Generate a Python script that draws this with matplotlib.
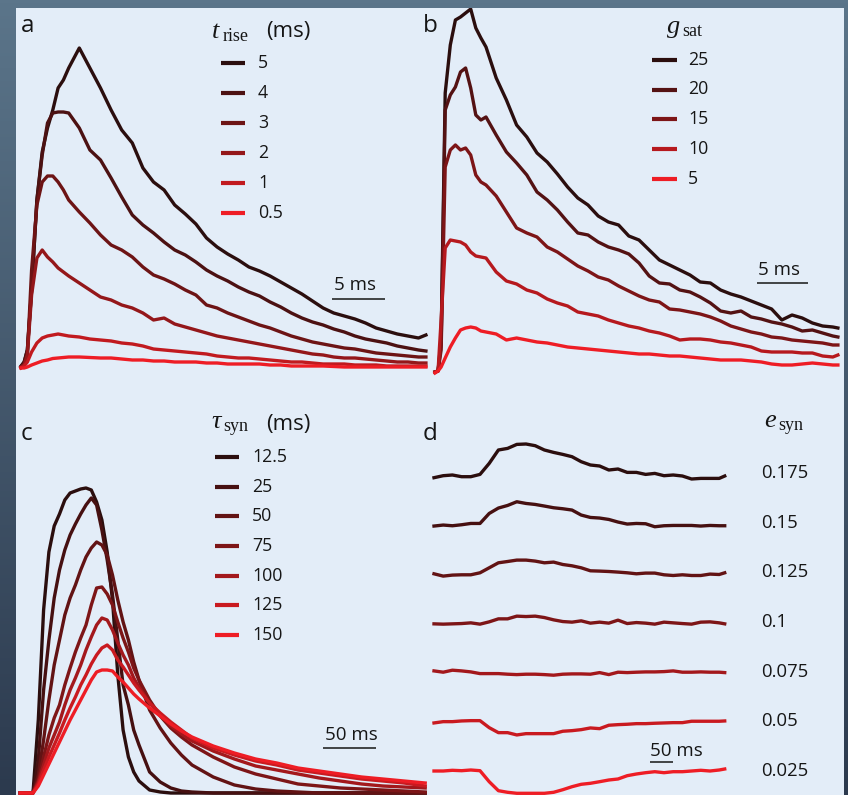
import numpy as np
import matplotlib
matplotlib.use('Agg')
import matplotlib.pyplot as plt
from matplotlib.colors import LinearSegmentedColormap
from matplotlib.patches import Rectangle
from matplotlib.lines import Line2D

# ---------------- data ----------------
# Panel a: rise time (ms) series, time in ms, amplitude in mV
a_labels = ['5', '4', '3', '2', '1', '0.5']
a_t = np.concatenate([[0, 0.3, 0.6, 1.0, 1.5, 2, 2.5, 3, 3.5, 4, 4.5], np.arange(5.5, 38, 1.0), [38.2]])
a_v5 = [0.2, 0.6, 1.8, 7.8, 16.8, 21.6, 24.0, 25.8, 28.0, 28.8, 30.0,
        32.0, 30.0, 28.0, 25.8, 23.8, 22.5, 20.0, 18.6, 17.8, 16.3, 15.4, 14.4, 13.0, 12.1, 11.4, 10.8,
        10.1, 9.7, 9.2, 8.6, 8.0, 7.4, 6.7, 6.0, 5.5, 5.2, 4.9, 4.5, 4.0, 3.7, 3.4, 3.2, 3.0, 3.3]
a_v4 = [0.1, 0.6, 1.8, 7.8, 16.8, 21.3, 24.5, 25.5, 25.6, 25.6, 25.5,
        24.0, 21.8, 20.8, 19.0, 17.1, 15.3, 14.3, 13.5, 12.6, 11.8, 11.3, 10.6, 9.8, 9.2, 8.7, 8.1,
        7.6, 7.2, 6.6, 6.1, 5.5, 5.0, 4.6, 4.3, 3.9, 3.6, 3.2, 2.9, 2.7, 2.5, 2.2, 2.0, 1.8, 1.7]
a_v3 = [0.1, 0.4, 1.3, 9.8, 16.3, 18.6, 19.2, 19.2, 18.6, 17.8, 16.8,
        15.6, 14.5, 13.3, 12.3, 11.8, 11.1, 10.1, 9.3, 8.9, 8.4, 7.8, 7.3, 6.3, 6.0, 5.5, 5.1,
        4.7, 4.3, 4.0, 3.6, 3.2, 2.9, 2.6, 2.4, 2.2, 2.0, 1.9, 1.7, 1.5, 1.4, 1.3, 1.2, 1.1, 1.1]
a_v2 = [0.1, 0.3, 1.3, 7.3, 11.0, 11.8, 11.1, 10.6, 10.0, 9.6, 9.2,
        8.5, 7.8, 7.1, 6.8, 6.3, 6.0, 5.5, 4.8, 5.0, 4.4, 4.1, 3.8, 3.5, 3.2, 3.0, 2.8,
        2.6, 2.4, 2.2, 2.0, 1.8, 1.6, 1.4, 1.3, 1.1, 1.0, 1.0, 0.9, 0.8, 0.7, 0.6, 0.6, 0.5, 0.5]
a_v1 = [0.0, 0.2, 0.6, 1.6, 2.5, 3.0, 3.2, 3.3, 3.4, 3.3, 3.2,
        3.1, 2.9, 2.8, 2.7, 2.5, 2.4, 2.2, 1.9, 1.8, 1.7, 1.6, 1.5, 1.4, 1.2, 1.1, 1.0,
        1.0, 0.9, 0.8, 0.7, 0.6, 0.6, 0.5, 0.4, 0.4, 0.4, 0.3, 0.3, 0.3, 0.2, 0.2, 0.2, 0.2, 0.2]
a_v05 = [0.0, 0.0, 0.1, 0.3, 0.5, 0.7, 0.8, 0.95, 1.0, 1.05, 1.1,
         1.1, 1.05, 1.0, 1.0, 0.9, 0.8, 0.8, 0.7, 0.7, 0.6, 0.6, 0.6, 0.5, 0.5, 0.4, 0.4,
         0.4, 0.4, 0.3, 0.3, 0.2, 0.2, 0.2, 0.2, 0.15, 0.1, 0.1, 0.1, 0.1, 0.1, 0.1, 0.1, 0.1, 0.1]
a_series = [a_v5, a_v4, a_v3, a_v2, a_v1, a_v05]

# Panel b: g_sat series
b_labels = ['25', '20', '15', '10', '5']
b_t = np.concatenate([[0, 0.3, 0.6, 1.0, 1.5, 2, 2.5, 3, 3.5, 4, 4.5, 5], np.arange(6, 40, 1.0), [39.5]])
b_v25 = [0.1, 0.2, 3.3, 28.0, 32.8, 35.3, 35.6, 36.0, 36.4, 34.5, 33.5, 32.6,
         29.5, 27.3, 24.8, 23.6, 22.0, 21.1, 19.9, 18.6, 17.5, 16.8, 15.7, 15.1, 14.8, 13.7, 13.3, 12.3, 11.3,
         10.8, 10.3, 9.8, 9.1, 9.0, 8.3, 7.9, 7.6, 7.2, 6.8, 6.4, 5.3, 5.8, 5.5, 5.0, 4.7, 4.6, 4.5]
b_v20 = [0.1, 0.2, 2.8, 26.3, 27.8, 28.6, 30.1, 30.5, 28.5, 25.8, 25.3, 25.6,
         23.8, 22.1, 21.0, 19.8, 18.1, 17.3, 16.3, 15.1, 14.0, 13.8, 13.1, 12.6, 12.3, 11.9, 11.0, 9.7, 9.0,
         8.9, 8.3, 8.1, 7.6, 7.0, 6.2, 6.0, 6.2, 5.6, 5.4, 5.1, 4.9, 4.6, 4.2, 4.3, 4.0, 3.7, 3.6]
b_v15 = [0.1, 0.2, 2.3, 20.6, 22.3, 22.8, 22.3, 22.5, 21.8, 19.8, 19.1, 18.8,
         17.7, 16.1, 14.5, 14.0, 13.6, 12.6, 12.1, 11.4, 10.7, 10.2, 9.6, 9.3, 8.7, 8.2, 7.7, 7.3, 7.1,
         6.4, 6.3, 6.1, 5.9, 5.6, 5.2, 4.7, 4.4, 4.1, 3.9, 3.6, 3.5, 3.3, 3.2, 3.1, 3.0, 2.8, 2.8]
b_v10 = [0.1, 0.2, 5.3, 12.5, 13.3, 13.2, 13.1, 12.8, 12.1, 11.7, 11.6, 11.5,
         10.1, 9.2, 8.9, 8.3, 8.0, 7.4, 7.0, 6.7, 6.1, 5.9, 5.7, 5.3, 5.0, 4.7, 4.5, 4.2, 4.0,
         3.7, 3.3, 3.4, 3.4, 3.3, 3.1, 3.0, 2.8, 2.6, 2.2, 2.1, 2.1, 2.1, 2.0, 2.0, 1.7, 1.6, 1.8]
b_v5 = [0.0, 0.2, 0.6, 1.5, 2.6, 3.5, 4.3, 4.5, 4.6, 4.5, 4.2, 4.1,
        3.9, 3.3, 3.5, 3.3, 3.1, 3.0, 2.8, 2.6, 2.5, 2.4, 2.3, 2.2, 2.1, 2.0, 1.9, 1.9, 1.8,
        1.7, 1.7, 1.6, 1.5, 1.4, 1.3, 1.3, 1.3, 1.2, 1.1, 0.9, 0.8, 0.8, 0.9, 1.0, 0.9, 0.8, 0.8]
b_series = [b_v25, b_v20, b_v15, b_v10, b_v5]

# Panel c: tau_syn series (time in ms)
c_labels = ['12.5', '25', '50', '75', '100', '125', '150']
c_t = np.concatenate([[-12, 0], np.arange(5, 101, 5), np.arange(110, 151, 10), np.arange(170, 371, 20)])
c_v125 = [0, 0, 7.3, 18.3, 24.1, 26.7, 27.9, 29.3, 30.0, 30.2, 30.4, 30.5, 30.3, 29.1, 27.3, 24.1, 19.3,
          11.8, 6.3, 3.6, 2.1, 1.2, 0.3, 0.1, 0, 0, 0, 0, 0, 0, 0, 0, 0, 0, 0, 0, 0, 0]
c_v25 = [0, 0, 3.3, 10.3, 15.3, 19.5, 22.3, 24.3, 25.8, 26.9, 27.9, 28.8, 29.5, 28.8, 26.3, 23.3, 19.8,
         15.3, 10.8, 8.8, 6.3, 4.8, 2.1, 1.1, 0.5, 0.2, 0.1, 0, 0, 0, 0, 0, 0, 0, 0, 0, 0, 0]
c_v50 = [0, 0, 1.8, 5.3, 9.3, 12.8, 15.3, 17.8, 19.5, 20.8, 22.3, 23.6, 24.5, 25.1, 24.8, 23.8, 21.8,
         19.3, 17.1, 15.3, 13.1, 11.3, 8.3, 6.5, 5.0, 3.8, 2.8, 1.6, 0.8, 0.4, 0.2, 0.1, 0, 0, 0, 0, 0, 0]
c_v75 = [0, 0, 1.3, 3.6, 5.8, 7.5, 8.8, 10.8, 12.5, 14.1, 15.5, 16.8, 18.8, 20.5, 20.6, 19.9, 18.8,
         17.1, 15.5, 14.1, 12.5, 11.3, 9.3, 7.7, 6.5, 5.6, 4.8, 3.6, 2.6, 1.9, 1.4, 0.9, 0.7, 0.5, 0.4, 0.3, 0.2, 0.1]
c_v100 = [0, 0, 1.1, 2.8, 4.5, 5.8, 7.1, 8.8, 10.3, 11.5, 12.8, 14.3, 15.6, 16.8, 17.5, 17.3, 16.3,
          15.0, 13.8, 12.8, 11.5, 10.6, 9.0, 7.8, 6.7, 5.9, 5.2, 4.2, 3.4, 2.7, 2.3, 1.9, 1.5, 1.2, 0.9, 0.7, 0.6, 0.5]
c_v125b = [0, 0, 0.9, 2.3, 3.6, 4.8, 6.0, 7.3, 8.5, 9.6, 10.8, 11.8, 12.9, 13.8, 14.5, 14.8, 14.3,
           13.3, 12.6, 11.8, 11.0, 10.3, 9.0, 8.0, 7.1, 6.3, 5.5, 4.5, 3.8, 3.2, 2.8, 2.3, 2.0, 1.7, 1.4, 1.2, 1.0, 0.7]
c_v150 = [0, 0, 0.7, 1.8, 2.9, 4.0, 5.1, 6.2, 7.3, 8.3, 9.3, 10.3, 11.3, 12.1, 12.3, 12.3, 12.2,
          11.6, 11.1, 10.5, 9.9, 9.4, 8.5, 7.7, 6.9, 6.2, 5.6, 4.7, 4.0, 3.4, 3.0, 2.5, 2.2, 1.9, 1.6, 1.4, 1.2, 1.0]
c_series = [c_v125, c_v25, c_v50, c_v75, c_v100, c_v125b, c_v150]

# Panel d: e_syn series (deviation from rest, mV)
d_labels = ['0.175', '0.15', '0.125', '0.1', '0.075', '0.05', '0.025']
d_t = np.append(np.arange(0, 621, 20), 632)
d_v0175 = [-0.10, 0.10, 0.17, 0, 0, 0.23, 1.33, 2.67, 2.83, 3.23, 3.27, 3.10, 2.67, 2.43, 2.23, 2.00, 1.50,
           1.17, 1.07, 0.67, 0.77, 0.43, 0.43, 0.23, 0.33, 0.10, 0.17, 0.07, -0.23, -0.17, -0.17, -0.17, 0.07]
d_v015 = [-0.03, 0.07, 0, 0.10, 0.23, 0.23, 1.23, 1.77, 2.03, 2.40, 2.23, 2.13, 1.97, 1.80, 1.70, 1.57, 1.07,
          0.83, 0.77, 0.63, 0.37, 0.17, 0.23, 0.20, -0.10, 0, 0.03, 0.03, 0.03, -0.03, 0.03, 0, 0]
d_v0125 = [0.10, -0.13, -0.03, 0, 0, 0.20, 0.70, 1.20, 1.33, 1.47, 1.47, 1.37, 1.20, 1.27, 1.03, 0.90, 0.70,
           0.40, 0.37, 0.33, 0.27, 0.20, 0.10, 0.17, 0.17, 0, -0.07, 0, -0.07, -0.07, 0.07, 0.03, 0.20]
d_v01 = [0, -0.03, 0, 0.03, 0.10, -0.03, 0.20, 0.50, 0.50, 0.77, 0.73, 0.77, 0.63, 0.40, 0.23, 0.17, 0.30,
         0.07, 0.17, 0.07, 0.37, 0.03, 0.13, 0.07, -0.03, 0.17, 0.10, 0.03, -0.03, 0.17, 0.20, 0.10, 0]
d_v0075 = [0.20, 0.07, 0.27, 0.20, 0.10, -0.07, -0.07, -0.07, -0.13, -0.17, -0.13, -0.13, -0.17, -0.23, -0.13,
           -0.10, -0.10, -0.13, 0.03, -0.17, 0.07, 0.03, 0.07, 0.10, 0.10, 0.13, 0.20, 0.07, 0.07, 0.10, 0.07, 0.07, 0.03]
d_v005 = [-0.10, 0.03, 0.03, 0.10, 0.13, 0.13, -0.57, -1.07, -1.07, -1.30, -1.17, -1.17, -1.17, -1.17, -0.93,
          -0.87, -0.77, -0.60, -0.67, -0.33, -0.27, -0.23, -0.17, -0.17, -0.13, -0.10, -0.07, -0.07, 0.07, 0.07,
          0.07, 0.07, 0.10]
d_v0025 = [0, 0, 0.07, 0.03, 0.10, 0.03, -1.07, -1.97, -2.13, -2.23, -2.23, -2.23, -2.23, -2.13, -1.87, -1.57,
           -1.33, -1.23, -1.07, -0.90, -0.80, -0.47, -0.30, -0.17, -0.07, -0.17, -0.07, -0.07, 0, 0.07, 0, 0.10, 0.20]
d_series = [d_v0175, d_v015, d_v0125, d_v01, d_v0075, d_v005, d_v0025]

# ---------------- style ----------------
W, H = 848, 795
SANS = ['Open Sans', 'DejaVu Sans']
SERIF = ['Liberation Serif', 'DejaVu Serif']
TXT = '#161616'
cmap = LinearSegmentedColormap.from_list('rd', ['#2b0e0e', '#7d1517', '#ee1d25'])
LW = 2.4

fig = plt.figure(figsize=(W / 100, H / 100), dpi=100)

# background (pixel coordinate overlay)
bg = fig.add_axes([0, 0, 1, 1])
bg.set_axis_off()
top_c = np.array([0x5b, 0x75, 0x8a]) / 255
bot_c = np.array([0x2c, 0x3a, 0x4e]) / 255
fr = np.linspace(0, 1, 256)[:, None, None]
grad = top_c[None, None, :] * (1 - fr) + bot_c[None, None, :] * fr
grad = np.repeat(grad, 2, axis=1)
bg.imshow(grad, extent=(0, W, H, 0), aspect='auto', zorder=0)
bg.add_patch(Rectangle((16, 8), 828, 790, facecolor='#e3edf8', edgecolor='none', zorder=1))
bg.set_xlim(0, W)
bg.set_ylim(H, 0)


def make_panel(box, x0, xs, y0, ys):
    l, t, r, b = box
    ax = fig.add_axes([l / W, 1 - b / H, (r - l) / W, (b - t) / H])
    ax.set_xlim((l - x0) / xs, (r - x0) / xs)
    ax.set_ylim((y0 - b) / ys, (y0 - t) / ys)
    ax.set_axis_off()
    ax.patch.set_alpha(0)
    return ax


def colors(n):
    return [cmap(i / (n - 1)) for i in range(n)]


def legend(x0, x1, xt, ys, labels, cols, fs=12.8):
    for y, lab, c in zip(ys, labels, cols):
        bg.add_line(Line2D([x0, x1], [y, y], color=c, lw=3.0, solid_capstyle='butt', zorder=3))
        bg.text(xt, y, lab, ha='left', va='center', fontsize=fs, family=SANS, color=TXT, zorder=3)


def scalebar(ax, t0, dt, v, label, tx, tv, ha='center'):
    ax.plot([t0, t0 + dt], [v, v], color=TXT, lw=1.1, solid_capstyle='butt')
    ax.text(tx, tv, label, ha=ha, va='baseline', fontsize=13.5, family=SANS, color=TXT)


# ---- panel a ----
ax_a = make_panel((16, 8, 430, 398), 21, 10.6, 368, 10)
ca = colors(len(a_series))
for v, c in zip(a_series, ca):
    ax_a.plot(a_t, v, color=c, lw=LW, solid_joinstyle='round')
scalebar(ax_a, 29.3, 5, 6.9, '5 ms', 31.5, 7.8)
legend(221, 245, 258, [63, 93, 123, 153, 183, 213], a_labels, ca)
bg.text(212, 38, 't', fontsize=19, family=SERIF, style='italic', color=TXT, va='baseline', zorder=3)
bg.text(223, 41, 'rise', fontsize=13, family=SERIF, color=TXT, va='baseline', zorder=3)
bg.text(266, 37, '(ms)', fontsize=16, family=SANS, color=TXT, va='baseline', zorder=3)

# ---- panel b ----
ax_b = make_panel((430, 8, 844, 398), 435, 10.2, 373, 10)
cb = colors(len(b_series))
for v, c in zip(b_series, cb):
    ax_b.plot(b_t, v, color=c, lw=LW, solid_joinstyle='round')
scalebar(ax_b, 31.6, 5, 9.0, '5 ms', 33.7, 9.8)
legend(652, 677, 688, [60, 89.5, 119, 149, 179], b_labels, cb)
bg.text(667, 33, 'g', fontsize=19, family=SERIF, style='italic', color=TXT, va='baseline', zorder=3)
bg.text(682, 36, 'sat', fontsize=13, family=SERIF, color=TXT, va='baseline', zorder=3)

# ---- panel c ----
ax_c = make_panel((16, 398, 430, 795), 33, 1.06, 793, 10)
cc = colors(len(c_series))
for v, c in zip(c_series, cc):
    ax_c.plot(c_t, v, color=c, lw=LW, solid_joinstyle='round')
scalebar(ax_c, 273.6, 50, 4.5, '50 ms', 300, 5.3)
legend(215, 239, 252, [457, 487, 516, 546, 576, 605, 635], c_labels, cc)
bg.text(211, 428, 'τ', fontsize=19, family=SERIF, style='italic', color=TXT, va='baseline', zorder=3)
bg.text(223, 431, 'syn', fontsize=13, family=SERIF, color=TXT, va='baseline', zorder=3)
bg.text(266, 430, '(ms)', fontsize=16, family=SANS, color=TXT, va='baseline', zorder=3)

# ---- panel d ----
row_gap = 4.905
ax_d = make_panel((430, 398, 844, 795), 434, 0.46, 476.7, 10)
cd = colors(len(d_series))
for k, (v, c) in enumerate(zip(d_series, cd)):
    ax_d.plot(d_t, np.array(v) - k * row_gap, color=c, lw=LW, solid_joinstyle='round')
scalebar(ax_d, 469.6, 50, -28.5, '50 ms', 469.6, -27.9, ha='left')
for k, lab in enumerate(d_labels):
    bg.text(761, 473 + k * 49.7, lab, ha='left', va='center', fontsize=13.3, family=SANS, color=TXT, zorder=3)
bg.text(764, 427, 'e', fontsize=19, family=SERIF, style='italic', color=TXT, va='baseline', zorder=3)
bg.text(778, 430, 'syn', fontsize=13, family=SERIF, color=TXT, va='baseline', zorder=3)

# panel letters
for x, y, s in [(21, 32, 'a'), (423, 32, 'b'), (21, 440, 'c'), (423, 440, 'd')]:
    bg.text(x, y, s, fontsize=17.5, family=SANS, color=TXT, va='baseline', zorder=3)

fig.savefig('out.png', dpi=100)
